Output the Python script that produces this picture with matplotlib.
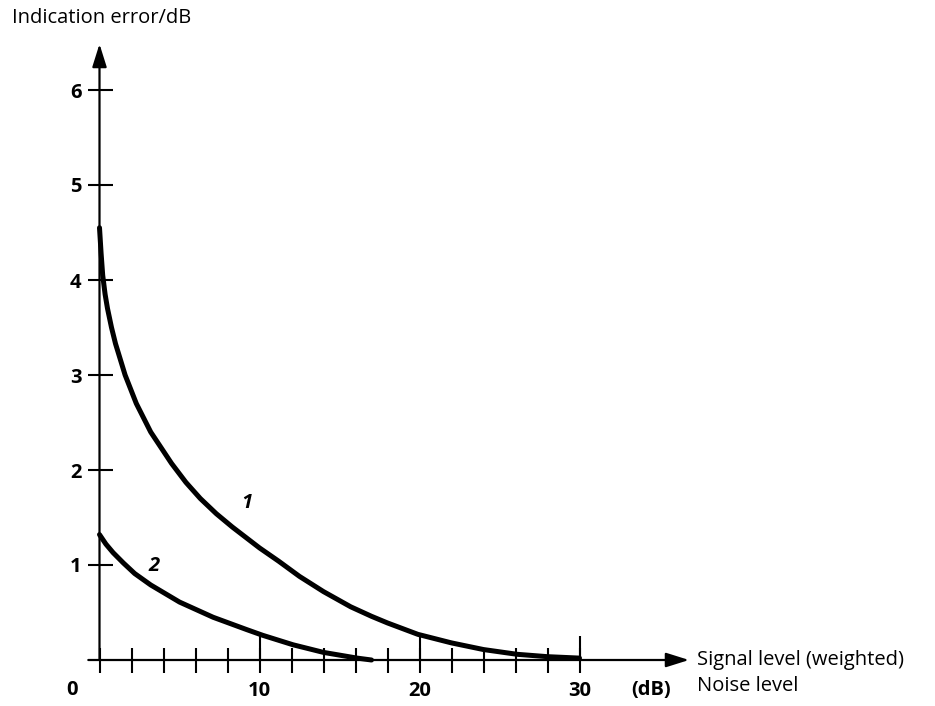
import matplotlib
matplotlib.use("Agg")
import matplotlib.pyplot as plt
from matplotlib.ticker import FixedLocator

plt.rcParams['font.family'] = ['Open Sans', 'DejaVu Sans']

# ---- data ----
curve1_x = [0, 0.1, 0.2, 0.35, 0.5, 0.75, 1.0, 1.6, 2.3, 3.2, 4.5, 5.4, 6.3, 7.3, 8.3, 10.0,
            11.2, 12.5, 14.0, 15.7, 17.0, 18.0, 19.9, 22.0, 24.0, 26.1, 28.0, 30.0]
curve1_y = [4.55, 4.28, 4.05, 3.85, 3.70, 3.50, 3.33, 3.0, 2.7, 2.40, 2.07, 1.87, 1.70, 1.54, 1.40, 1.18,
            1.04, 0.88, 0.72, 0.56, 0.46, 0.39, 0.27, 0.18, 0.11, 0.06, 0.035, 0.02]
curve2_x = [0, 0.4, 0.85, 1.5, 2.2, 3.2, 5.0, 7.1, 9.2, 10.2, 12.1, 14.0, 16.1, 17.0]
curve2_y = [1.32, 1.22, 1.13, 1.02, 0.91, 0.79, 0.61, 0.45, 0.32, 0.26, 0.16, 0.08, 0.02, 0.0]
y_ticks = [1, 2, 3, 4, 5, 6]
x_major = [10, 20, 30]
x_minor = list(range(0, 31, 2))
curve_labels = ["1", "2"]
curve_label_pos = [(9.2, 1.65), (3.4, 0.99)]

W, H = 935, 706
fig = plt.figure(figsize=(W / 100, H / 100), dpi=100)
ax = fig.add_axes([0, 0, 1, 1])
x0_px, xs = 99.5, 16.0
y0_px, ys = 660.0, 95.0
ax.set_xlim(-x0_px / xs, (W - x0_px) / xs)
ax.set_ylim(-(H - y0_px) / ys, y0_px / ys)

for s in ['top', 'right']:
    ax.spines[s].set_visible(False)
for s in ['left', 'bottom']:
    ax.spines[s].set_position(('data', 0))
    ax.spines[s].set_visible(False)

# axes with arrows
arrow_kw = dict(arrowstyle='-|>,head_length=0.7,head_width=0.22',
                mutation_scale=20, lw=1.6, color='black', shrinkA=0, shrinkB=0)
ax.annotate("", xy=(0, (y0_px - 44) / ys), xytext=(0, 0), arrowprops=arrow_kw)
ax.annotate("", xy=((689 - x0_px) / xs, 0), xytext=(-0.7, 0), arrowprops=arrow_kw)

tick_font = dict(family=['Open Sans', 'DejaVu Sans'], weight='bold', size=14.5)

# y ticks
ax.set_yticks(y_ticks)
ax.set_yticklabels([str(v) for v in y_ticks], fontdict=tick_font)
ax.tick_params(axis='y', direction='inout', length=18, width=1.5, pad=4, right=False)

# x ticks
ax.xaxis.set_major_locator(FixedLocator(x_major))
ax.set_xticklabels([str(v) for v in x_major], fontdict=tick_font)
ax.xaxis.set_minor_locator(FixedLocator(x_minor))
ax.xaxis.remove_overlapping_locs = False
ax.tick_params(axis='x', which='major', direction='in', length=17, width=1.5,
               pad=15, top=False)
ax.tick_params(axis='x', which='minor', direction='inout', length=18, width=1.5, top=False)

# curves
ax.plot(curve1_x, curve1_y, color='black', lw=3.6, solid_capstyle='round', solid_joinstyle='round')
ax.plot(curve2_x, curve2_y, color='black', lw=3.6, solid_capstyle='round', solid_joinstyle='round')
for lab, (lx, ly) in zip(curve_labels, curve_label_pos):
    ax.text(lx, ly, lab, fontsize=14.5, fontweight='bold', fontstyle='italic',
            ha='center', va='center')

# texts
fig.text(12 / W, 1 - 18 / H, "Indication error/dB", fontsize=14.5, ha='left', va='center')
fig.text(697 / W, 1 - 660 / H, "Signal level (weighted)", fontsize=14.5, ha='left', va='center')
fig.text(697 / W, 1 - 686 / H, "Noise level", fontsize=14.5, ha='left', va='center')
fig.text(651 / W, 1 - 690 / H, "(dB)", fontdict=tick_font, ha='center', va='center')
fig.text(72 / W, 1 - 690 / H, "0", fontdict=tick_font, ha='center', va='center')

fig.savefig("out.png", dpi=100)
